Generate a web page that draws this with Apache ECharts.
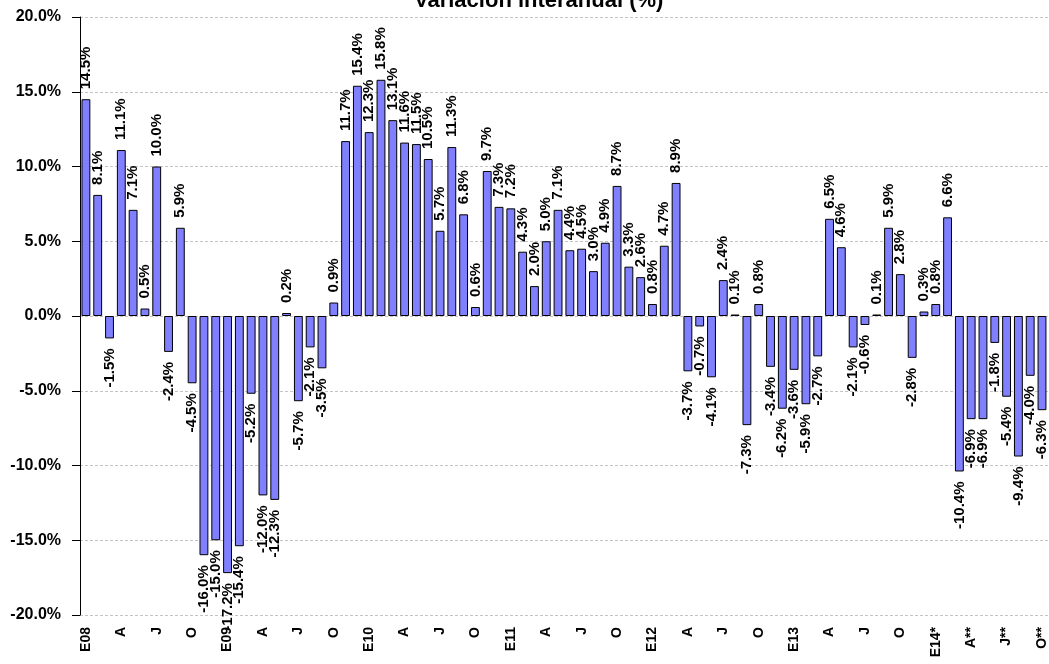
<!DOCTYPE html>
<html>
<head>
<meta charset="utf-8">
<script src="https://cdn.jsdelivr.net/npm/echarts@6/dist/echarts.min.js"></script>
<style>
  html, body { margin: 0; padding: 0; background: #fff; }
  #chart { width: 1049px; height: 664px; }
</style>
</head>
<body>
<div id="chart"></div>
<script>
// monthly codes, Jan 2008 .. Oct 2014 (* / ** = provisional)
const months = [
  "E08", "F", "M", "A", "M", "J", "J", "A", "S", "O", "N", "D",
  "E09", "F", "M", "A", "M", "J", "J", "A", "S", "O", "N", "D",
  "E10", "F", "M", "A", "M", "J", "J", "A", "S", "O", "N", "D",
  "E11", "F", "M", "A", "M", "J", "J", "A", "S", "O", "N", "D",
  "E12", "F", "M", "A", "M", "J", "J", "A", "S", "O", "N", "D",
  "E13", "F", "M", "A", "M", "J", "J", "A", "S", "O", "N", "D",
  "E14*", "F*", "M*", "A**", "M**", "J**", "J**", "A**", "S**", "O**"
];

const variation = [
  14.5, 8.1, -1.5, 11.1, 7.1, 0.5, 10.0, -2.4, 5.9, -4.5, -16.0, -15.0,
  -17.2, -15.4, -5.2, -12.0, -12.3, 0.2, -5.7, -2.1, -3.5, 0.9, 11.7, 15.4,
  12.3, 15.8, 13.1, 11.6, 11.5, 10.5, 5.7, 11.3, 6.8, 0.6, 9.7, 7.3,
  7.2, 4.3, 2.0, 5.0, 7.1, 4.4, 4.5, 3.0, 4.9, 8.7, 3.3, 2.6,
  0.8, 4.7, 8.9, -3.7, -0.7, -4.1, 2.4, 0.1, -7.3, 0.8, -3.4, -6.2,
  -3.6, -5.9, -2.7, 6.5, 4.6, -2.1, -0.6, 0.1, 5.9, 2.8, -2.8, 0.3,
  0.8, 6.6, -10.4, -6.9, -6.9, -1.8, -5.4, -9.4, -4.0, -6.3
];

const yTicks = [-20, -15, -10, -5, 0, 5, 10, 15, 20];

const font = "'Liberation Sans', Arial, sans-serif";
const chart = echarts.init(document.getElementById("chart"));

// label goes above positive bars, below negative ones, always reading upward
const barData = variation.map((v) => ({
  value: v,
  label: v >= 0
    ? { position: "top", align: "left" }
    : { position: "bottom", align: "right" }
}));

chart.setOption({
  animation: false,
  title: {
    text: "Variación interanual (%)",
    left: 409,
    top: -15,
    textStyle: { fontFamily: font, fontSize: 22, fontWeight: "bold", color: "#000" }
  },
  grid: { left: 80, right: 1, top: 17, bottom: 49, containLabel: false },
  xAxis: {
    type: "category",
    data: months,
    axisLine: { show: false, onZero: false },
    axisTick: { show: false },
    axisLabel: {
      interval: 2,
      rotate: 90,
      margin: 12,
      fontFamily: font,
      fontSize: 14,
      fontWeight: "bold",
      color: "#000"
    }
  },
  yAxis: {
    type: "value",
    min: yTicks[0],
    max: yTicks[yTicks.length - 1],
    interval: 5,
    axisLine: { show: true, lineStyle: { color: "#000", width: 1 } },
    axisTick: { show: true, length: 8, lineStyle: { color: "#000" } },
    axisLabel: {
      margin: 19,
      fontFamily: font,
      fontSize: 16,
      fontWeight: "bold",
      color: "#000",
      formatter: (v) => v.toFixed(1) + "%"
    },
    splitLine: { show: true, lineStyle: { color: "#c4c4c4", type: [3, 2], width: 1 } }
  },
  series: [
    {
      type: "bar",
      data: barData,
      barCategoryGap: "25%",
      itemStyle: { color: "#8080ff", borderColor: "#000", borderWidth: 1 },
      label: {
        show: true,
        rotate: 90,
        distance: 10,
        verticalAlign: "middle",
        fontFamily: font,
        fontSize: 15,
        fontWeight: "bold",
        color: "#000",
        formatter: (p) => p.value.toFixed(1) + "%"
      }
    }
  ]
});
</script>
</body>
</html>
